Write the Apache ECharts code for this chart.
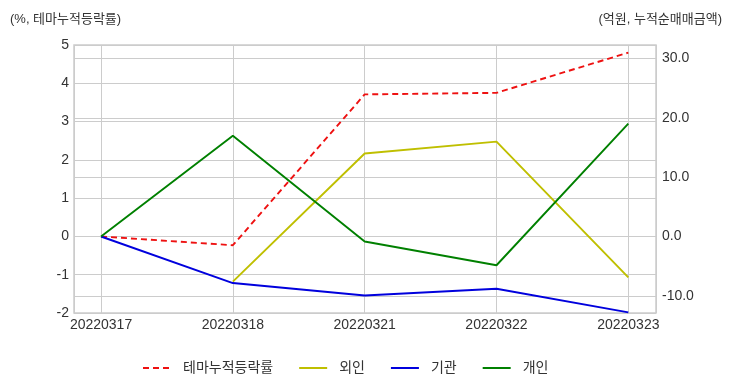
<!DOCTYPE html>
<html><head><meta charset="utf-8">
<script src="https://cdn.jsdelivr.net/npm/echarts@6/dist/echarts.min.js"></script>
<style>html,body{margin:0;padding:0;background:#fff}#c{width:732px;height:392px}</style>
</head><body><div id="c"></div>
<script>
const categories = ['20220317','20220318','20220321','20220322','20220323'];
const themeReturn = [0, -0.23, 3.71, 3.75, 4.80];
const foreign = [null, -7.6, 14.0, 16.0, -6.9];
const institution = [0, -7.85, -9.95, -8.8, -12.8];
const individual = [0, 17.0, -0.85, -4.85, 19.05];
const leftTicks = [-2, -1, 0, 1, 2, 3, 4, 5];
const rightTicks = [-10, 0, 10, 20, 30];

const FONT = "'Liberation Sans', 'Noto Sans CJK KR', sans-serif";
const pair = arr => arr.map((v, i) => [i, v]);
const chart = echarts.init(document.getElementById('c'));
chart.setOption({
  animation: false,
  textStyle: { fontFamily: FONT },
  title: [
    { text: '(%, 테마누적등락률)', left: 5, top: 8, textStyle: { fontSize: 13, fontWeight: 'normal', color: '#333', fontFamily: FONT } },
    { text: '(억원, 누적순매매금액)', right: 5, top: 8, textStyle: { fontSize: 13, fontWeight: 'normal', color: '#333', fontFamily: FONT } }
  ],
  grid: { left: 74, right: 76, top: 45, bottom: 79, show: true, borderColor: '#cccccc', borderWidth: 1.5, backgroundColor: '#fff' },
  legend: {
    bottom: 12, left: 137, itemWidth: 28, itemHeight: 10, itemGap: 25,
    itemStyle: { opacity: 0 },
    textStyle: { fontSize: 14, color: '#333', fontFamily: FONT, padding: [0, 0, 0, 7] },
    data: ['테마누적등락률', '외인', '기관', '개인']
  },
  xAxis: {
    type: 'value', min: -0.205, max: 4.21,
    axisLine: { show: false }, axisTick: { show: false },
    splitLine: { show: true, lineStyle: { color: '#cccccc', width: 1 } },
    axisLabel: {
      color: '#333', fontSize: 14, margin: 5,
      formatter: v => (Number.isInteger(v) && categories[v] !== undefined) ? categories[v] : ''
    }
  },
  yAxis: [
    {
      type: 'value', min: leftTicks[0], max: leftTicks[leftTicks.length - 1], interval: 1,
      axisLine: { show: false }, axisTick: { show: false },
      splitLine: { show: true, lineStyle: { color: '#cccccc', width: 1 } },
      axisLabel: { color: '#333', fontSize: 14, margin: 5 }
    },
    {
      type: 'value', min: -12.9, max: 32.3, position: 'right',
      axisLine: { show: false }, axisTick: { show: false },
      splitLine: { show: true, lineStyle: { color: '#cccccc', width: 1 } },
      axisLabel: {
        color: '#333', fontSize: 14, margin: 6,
        formatter: v => rightTicks.includes(Math.round(v * 1000) / 1000) ? v.toFixed(1) : ''
      }
    }
  ],
  series: [
    { name: '테마누적등락률', type: 'line', yAxisIndex: 0, data: pair(themeReturn), symbol: 'none',
      lineStyle: { color: '#ee1111', width: 1.9, type: [6, 4] }, itemStyle: { color: '#ee1111' }, z: 2 },
    { name: '외인', type: 'line', yAxisIndex: 1, data: pair(foreign), symbol: 'none',
      lineStyle: { color: '#bfbf00', width: 1.9 }, itemStyle: { color: '#bfbf00' }, z: 3 },
    { name: '기관', type: 'line', yAxisIndex: 1, data: pair(institution), symbol: 'none',
      lineStyle: { color: '#0000dd', width: 1.9 }, itemStyle: { color: '#0000dd' }, z: 4 },
    { name: '개인', type: 'line', yAxisIndex: 1, data: pair(individual), symbol: 'none',
      lineStyle: { color: '#008000', width: 1.9 }, itemStyle: { color: '#008000' }, z: 5 }
  ]
});
</script></body></html>
